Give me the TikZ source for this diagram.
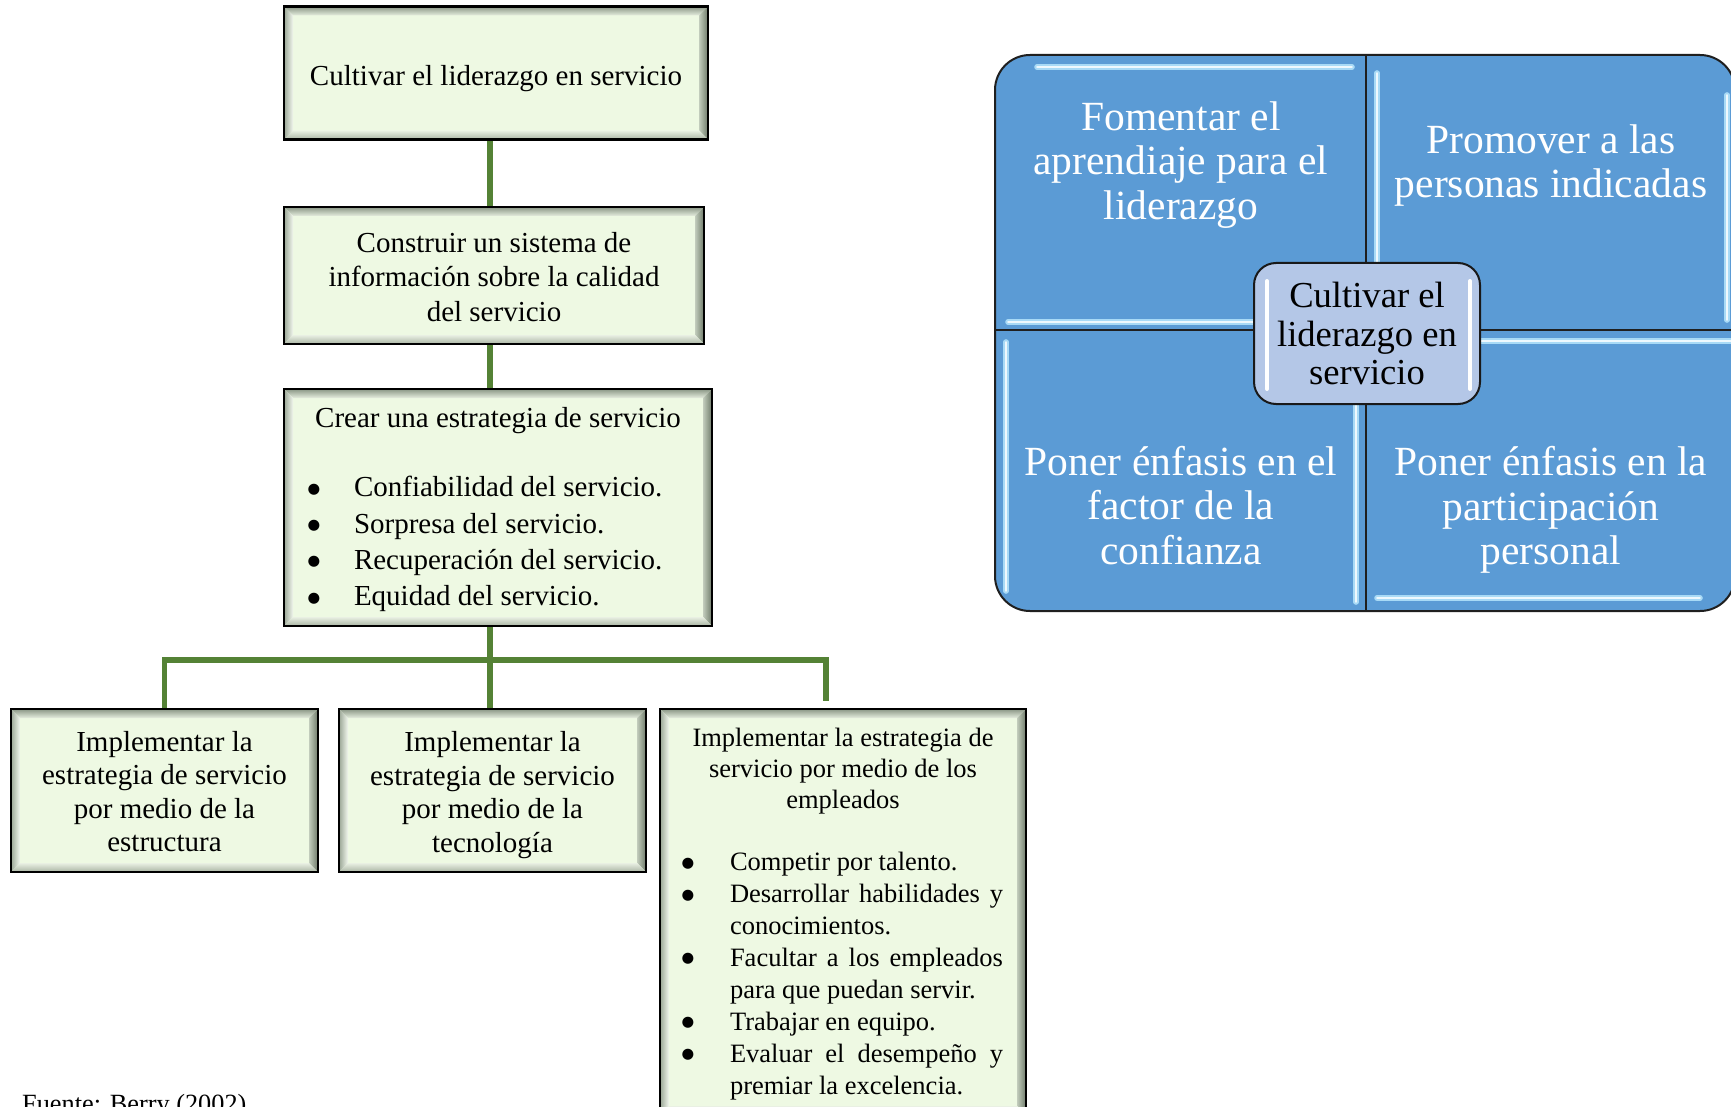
\documentclass[tikz,border=0pt]{standalone}
\usepackage{fontspec}
\setmainfont{Liberation Serif}
\newfontfamily\markfont{DejaVu Sans}
\usetikzlibrary{backgrounds}

\definecolor{boxfill}{HTML}{EEF9E3}
\definecolor{linkgreen}{HTML}{548235}
\definecolor{quadblue}{HTML}{5B9BD5}
\definecolor{coreblue}{HTML}{B4C7E7}
\definecolor{glint}{HTML}{A8DAF6}
\definecolor{bevtopout}{HTML}{8A9685}
\definecolor{bevtopin}{HTML}{E6EEDF}
\definecolor{bevleftout}{HTML}{9AA695}
\definecolor{bevleftin}{HTML}{F2F7EE}
\definecolor{bevrightout}{HTML}{6E7A69}
\definecolor{bevrightin}{HTML}{C2CCBC}
\definecolor{bevbotout}{HTML}{A9B4A3}
\definecolor{bevbotin}{HTML}{E9F0E3}

\newcommand\bevw{9pt}
% bullet marks of the lists
\newcommand\bigdot{\raisebox{3.6pt}{\markfont\fontsize{14.5pt}{14.5pt}\selectfont ●}}
\newcommand\itemA{\makebox[32pt][c]{\bigdot}\hspace{24pt}}
\newcommand\itemB{\makebox[10pt][c]{\bigdot}\hspace{37pt}}
\newcommand\contB{\hspace*{47pt}}

\begin{document}
\begin{tikzpicture}[x=1pt, y=-1pt,
  bevbox/.style={draw=black, line width=2.6pt, fill=boxfill, inner sep=0pt,
    path picture={
      \coordinate (bv-nw) at (path picture bounding box.north west);
      \coordinate (bv-ne) at (path picture bounding box.north east);
      \coordinate (bv-sw) at (path picture bounding box.south west);
      \coordinate (bv-se) at (path picture bounding box.south east);
      \shade[top color=bevtopout, bottom color=bevtopin]
        (bv-nw) -- (bv-ne) -- ([shift={(-\bevw,-\bevw)}]bv-ne) -- ([shift={(\bevw,-\bevw)}]bv-nw) -- cycle;
      \shade[left color=bevleftout, right color=bevleftin]
        (bv-nw) -- ([shift={(\bevw,-\bevw)}]bv-nw) -- ([shift={(\bevw,\bevw)}]bv-sw) -- (bv-sw) -- cycle;
      \shade[left color=bevrightin, right color=bevrightout]
        (bv-ne) -- (bv-se) -- ([shift={(-\bevw,\bevw)}]bv-se) -- ([shift={(-\bevw,-\bevw)}]bv-ne) -- cycle;
      \shade[top color=bevbotin, bottom color=bevbotout]
        (bv-sw) -- ([shift={(\bevw,\bevw)}]bv-sw) -- ([shift={(-\bevw,\bevw)}]bv-se) -- (bv-se) -- cycle;
    }},
  boxtext/.style={inner sep=0pt, align=center},
  conn/.style={draw=linkgreen, line width=5.5pt},
  quadedge/.style={draw=black!88, line width=2pt},
  glintline/.style={draw=glint, line width=2pt, double=white!80!glint, double distance=1.6pt, line cap=round},
  coreglint/.style={draw=white, line width=4pt, line cap=round},
  quadtext/.style={text=white, align=center, inner sep=0pt, font=\fontsize{41.5pt}{44.7pt}\selectfont},
  corebox/.style={draw=black!90, line width=2pt, fill=coreblue, rounded corners=22pt,
    minimum width=226pt, minimum height=141pt, inner sep=0pt, align=center,
    font=\fontsize{36.6pt}{38.6pt}\selectfont},
]
\useasboundingbox (0,0) rectangle (1731,1107);
\clip (0,0) rectangle (1731,1107);

% ---------- left chart: boxes ----------
\node[bevbox, minimum width=424pt, minimum height=133pt] (b1) at (496,73) {};
\node[boxtext, font=\fontsize{29pt}{33.5pt}\selectfont] (b1t) at ([yshift=-5.5pt]b1.center)
  {Cultivar el liderazgo en servicio};

\node[bevbox, minimum width=420pt, minimum height=137pt] (b2) at (494,275.5) {};
\node[boxtext, font=\fontsize{29pt}{34.2pt}\selectfont] (b2t) at ([yshift=-1.5pt]b2.center)
  {Construir un sistema de\\información sobre la calidad\\del servicio};

\node[bevbox, minimum width=428pt, minimum height=237pt] (b3) at (498,507.5) {};
\node[boxtext] (b3t) at ([yshift=-2pt]b3.center)
  {\begin{minipage}{400pt}\fontsize{29pt}{36.3pt}\selectfont
    \centering Crear una estrategia de servicio\par
    \vspace{33.5pt}
    \raggedright
    \itemA Confiabilidad del servicio.\par
    \itemA Sorpresa del servicio.\par
    \itemA Recuperación del servicio.\par
    \itemA Equidad del servicio.\par
  \end{minipage}};

\node[bevbox, minimum width=307pt, minimum height=163pt] (b4) at (164.5,790.5) {};
\node[boxtext, font=\fontsize{29pt}{33.5pt}\selectfont] (b4t) at ([yshift=-1.1pt]b4.center)
  {Implementar la\\estrategia de servicio\\por medio de la\\estructura};

\node[bevbox, minimum width=307pt, minimum height=163pt] (b5) at (492.5,790.5) {};
\node[boxtext, font=\fontsize{29pt}{33.5pt}\selectfont] (b5t) at ([yshift=-4.4pt]b5.center)
  {Implementar la\\estrategia de servicio\\por medio de la\\tecnología};

\node[bevbox, minimum width=366pt, minimum height=406pt] (b6) at (843,912) {};
\node[anchor=north, inner sep=0pt] (b6t) at ([yshift=-20.2pt]b6.north)
  {\begin{minipage}{320pt}\fontsize{26.5pt}{31.2pt}\selectfont
    \centering Implementar la estrategia de\\servicio por medio de los\\empleados\par
    \fontsize{26.5pt}{31.9pt}\selectfont
    \vspace{30pt}
    \raggedright
    \itemB Competir por talento.\par
    \itemB\makebox[273pt][s]{Desarrollar habilidades y}\\\contB conocimientos.\par
    \itemB\makebox[273pt][s]{Facultar a los empleados}\\\contB para que puedan servir.\par
    \itemB Trabajar en equipo.\par
    \itemB\makebox[273pt][s]{Evaluar el desempeño y}\\\contB premiar la excelencia.\par
  \end{minipage}};

\node[anchor=base west, inner sep=0pt, font=\fontsize{26.3pt}{30pt}\selectfont] (src) at (22,1112)
  {Fuente: Berry (2002)};

% ---------- left chart: connectors ----------
\coordinate (trunk) at (490,0);
\coordinate (bus) at (0,660);
\coordinate (tail) at (826,701);
\begin{scope}[on background layer]
  \fill[white] (0,0) rectangle (1731,1107);
  \draw[conn] (b1.south -| trunk) -- (b2.north -| trunk);
  \draw[conn] (b2.south -| trunk) -- (b3.north -| trunk);
  \draw[conn] (b3.south -| trunk) -- (b5.north -| trunk);
  \draw[conn] (b4.north) |- (tail |- bus) -- (tail);
\end{scope}

% ---------- right chart: four quadrants ----------
\draw[quadedge, fill=quadblue, rounded corners=35pt] (995,55) rectangle (1735,611);
\draw[quadedge] (1366,55) -- (1366,611);
\draw[quadedge] (995,330) -- (1735,330);

% bevel glints along the quadrant edges
\draw[glintline] (1037,67) -- (1352,67);
\draw[glintline] (1008,322) -- (1300,322);
\draw[glintline] (1377,73) -- (1377,290);
\draw[glintline] (1727,95) -- (1727,320);
\draw[glintline] (1006,342) -- (1006,591);
\draw[glintline] (1356,380) -- (1356,602);
\draw[glintline] (1440,341) -- (1731,341);
\draw[glintline] (1377,598) -- (1700,598);

\node[quadtext] (q1) at (1181,165) {Fomentar el\\aprendiaje para el\\liderazgo};
\node[quadtext] (q2) at (1551,165.4) {Promover a las\\personas indicadas};
\node[quadtext] (q3) at (1181,505.4) {Poner énfasis en el\\factor de la\\confianza};
\node[quadtext] (q4) at (1551,510) {Poner énfasis en la\\participación\\personal};

% centre tile
\node[corebox] (core) at (1367,333.5) {Cultivar el\\liderazgo en\\servicio};
\draw[coreglint] ([shift={(14pt,-19pt)}]core.north west) -- ([shift={(14pt,16pt)}]core.south west);
\draw[coreglint] ([shift={(-11pt,-19pt)}]core.north east) -- ([shift={(-11pt,16pt)}]core.south east);
\end{tikzpicture}
\end{document}
